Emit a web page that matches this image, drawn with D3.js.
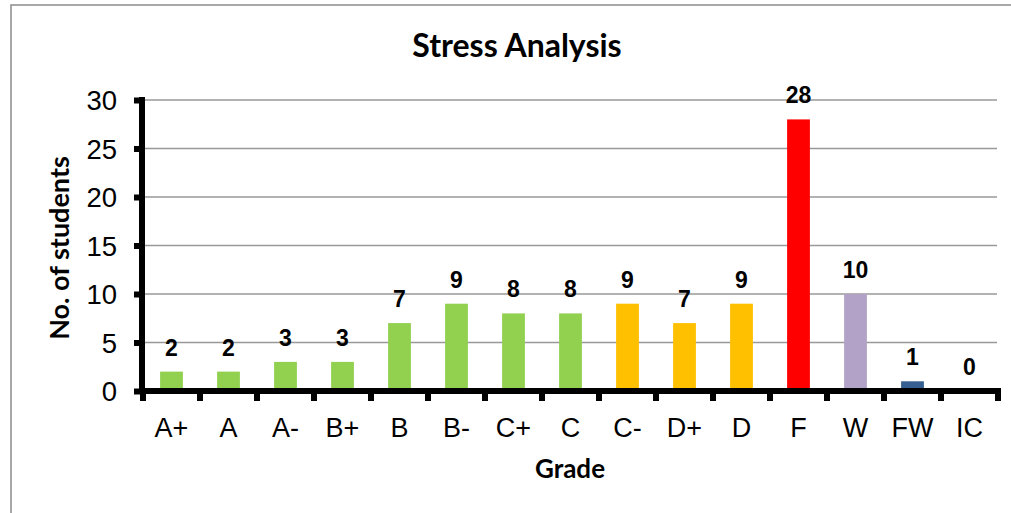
<!DOCTYPE html>
<html>
<head>
<meta charset="utf-8">
<script src="https://cdn.jsdelivr.net/npm/d3@7"></script>
<style>
  html, body { margin: 0; padding: 0; background: #fff; }
  svg { display: block; }
</style>
</head>
<body>
<svg id="chart" width="1011" height="513"></svg>
<script>
const categories = ["A+", "A", "A-", "B+", "B", "B-", "C+", "C", "C-", "D+", "D", "F", "W", "FW", "IC"];
const students = [2, 2, 3, 3, 7, 9, 8, 8, 9, 7, 9, 28, 10, 1, 0];
const yTicks = [0, 5, 10, 15, 20, 25, 30];
const titleText = "Stress Analysis";
const xTitleText = "Grade";
const yTitleText = "No. of students";

const barColors = ["#92D050", "#92D050", "#92D050", "#92D050", "#92D050", "#92D050", "#92D050", "#92D050",
                   "#FFC000", "#FFC000", "#FFC000", "#FF0000", "#B3A2C7", "#376092", "#376092"];

const svg = d3.select("#chart");

// outer frame
svg.append("rect")
  .attr("x", 11).attr("y", 5).attr("width", 1010).attr("height", 520)
  .attr("fill", "#fff").attr("stroke", "#8c8c8c").attr("stroke-width", 1.5);

const x = d3.scaleBand().domain(categories).range([143, 998]).paddingInner(0.6).paddingOuter(0.3);
const y = d3.scaleLinear().domain([0, 30]).range([391, 100]);

// gridlines
svg.append("g").selectAll("line").data(yTicks.filter(d => d > 0)).join("line")
  .attr("x1", 142).attr("x2", 997)
  .attr("y1", d => y(d)).attr("y2", d => y(d))
  .attr("stroke", "#999").attr("stroke-width", 1.5);

// bars
svg.append("g").selectAll("rect").data(categories).join("rect")
  .attr("x", d => x(d))
  .attr("width", x.bandwidth())
  .attr("y", (d, i) => y(students[i]))
  .attr("height", (d, i) => y(0) - y(students[i]))
  .attr("fill", (d, i) => barColors[i]);

// data labels
svg.append("g").selectAll("text").data(categories).join("text")
  .attr("x", d => x(d) + x.bandwidth() / 2)
  .attr("y", (d, i) => y(students[i]) - 16)
  .attr("text-anchor", "middle")
  .attr("font-family", "'Liberation Sans', Arial, sans-serif")
  .attr("font-weight", "bold")
  .attr("font-size", 23)
  .attr("fill", "#000")
  .text((d, i) => students[i]);

// y axis
const yAxis = d3.axisLeft(y).tickValues(yTicks).tickSize(0).tickPadding(25);
const gy = svg.append("g").attr("transform", "translate(142,0)").call(yAxis);
gy.select(".domain").attr("stroke", "#000").attr("stroke-width", 6).attr("d", `M0,${y(30) - 3}V${y(0) + 3}`);
gy.selectAll(".tick text")
  .attr("font-family", "'Liberation Sans', Arial, sans-serif")
  .attr("font-size", 27.5).attr("fill", "#000").attr("dy", "0.35em");
gy.selectAll(".tick").append("line")
  .attr("x1", -8).attr("x2", 0).attr("stroke", "#000").attr("stroke-width", 6);

// x axis
const xAxis = d3.axisBottom(x).tickSize(0).tickPadding(27);
const gx = svg.append("g").attr("transform", `translate(0,${y(0)})`).call(xAxis);
gx.select(".domain").attr("stroke", "#000").attr("stroke-width", 6).attr("d", "M139,0H1001");
gx.selectAll(".tick text")
  .attr("font-family", "'Liberation Sans', Arial, sans-serif")
  .attr("font-size", 27).attr("fill", "#000").attr("dy", "0.71em");
// boundary ticks between categories
const bounds = categories.map(c => x(c) - x.step() * x.paddingInner() / 2).concat([998]);
gx.append("g").selectAll("line").data(bounds).join("line")
  .attr("x1", d => d).attr("x2", d => d)
  .attr("y1", 0).attr("y2", 10)
  .attr("stroke", "#000").attr("stroke-width", 6);

// titles
svg.append("text")
  .attr("x", 517).attr("y", 57)
  .attr("text-anchor", "middle")
  .attr("font-family", "Lato, 'Open Sans', sans-serif")
  .attr("font-weight", "bold").attr("font-size", 32)
  .attr("fill", "#000")
  .text(titleText);

svg.append("text")
  .attr("x", 570).attr("y", 478)
  .attr("text-anchor", "middle")
  .attr("font-family", "Lato, 'Open Sans', sans-serif")
  .attr("font-weight", "bold").attr("font-size", 26)
  .attr("fill", "#000")
  .text(xTitleText);

svg.append("text")
  .attr("transform", "translate(69,248) rotate(-90)")
  .attr("text-anchor", "middle")
  .attr("font-family", "Lato, 'Open Sans', sans-serif")
  .attr("font-weight", "bold").attr("font-size", 27)
  .attr("fill", "#000")
  .text(yTitleText);
</script>
</body>
</html>
